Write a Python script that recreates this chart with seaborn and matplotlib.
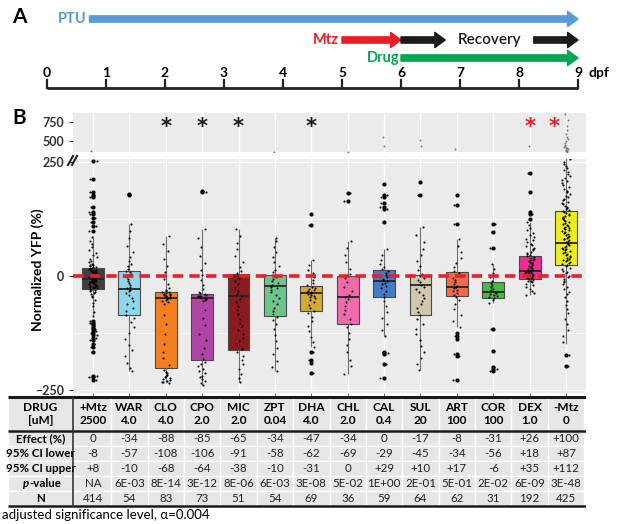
import numpy as np
import pandas as pd
import matplotlib
matplotlib.use("Agg")
import matplotlib.pyplot as plt
from matplotlib.lines import Line2D
from matplotlib.patches import Rectangle
import seaborn as sns

plt.rcParams['font.family'] = ['Lato', 'DejaVu Sans']

# ---------------- data ----------------
DRUGS = ["+Mtz", "WAR", "CLO", "CPO", "MIC", "ZPT", "DHA", "CHL", "CAL", "SUL", "ART", "COR", "DEX", "-Mtz"]
CONC = ["2500", "4.0", "4.0", "2.0", "2.0", "0.04", "4.0", "2.0", "0.4", "20", "100", "100", "1.0", "0"]
BOX_COLORS = ["#3f3f3f", "#8ed6ea", "#f47f20", "#b045a6", "#8c1a1f", "#6cc58b", "#d4ab2c",
              "#f06bab", "#3f7dcb", "#cfc8ae", "#f26a4b", "#4cb848", "#ee2d8e", "#eded1c"]

# five-number summaries (whisker low, Q1, median, Q3, whisker high)
WHIS_LO = [-90, -208, -235, -239, -233, -208, -155, -215, -132, -205, -112, -58, -41, -148]
Q1 = [-29, -86, -202, -183, -161, -88, -76, -105, -45, -85, -44, -48, -7, 25]
MED = [-6, -28, -48, -48, -44, -22, -38, -45, -11, -19, -24, -36, 11, 72]
Q3 = [17, 10, -35, -39, 5, 3, -21, 1, 14, 3, 9, -13, 43, 143]
WHIS_HI = [88, 114, 88, 102, 102, 84, 35, 77, 58, 107, 80, 26, 118, 320]

# individual larvae (approximate, read off the jittered points)
PTS_MTZ_PLUS = [380, 252, 212, 183, 178, 172, 150, 141, 136, 127, 118, 110, 98,
                86, 77, 70, 63, 57, 51, 46, 41, 37, 33, 30, 27, 25, 23, 21, 20, 19, 17, 16, 15,
                14, 13, 12, 11, 10, 9, 8, 7, 6, 5, 4, 3, 3, 2, 1, 1, 0, 0, -1, -2, -2, -3, -3, -4,
                -5, -5, -6, -7, -8, -8, -9, -10, -11, -12, -13, -14, -15, -16, -17, -18, -19, -20,
                -21, -22, -23, -24, -25, -26, -27, -28, -30, -31, -33, -35, -37, -40, -43, -47,
                -52, -58, -66, -78, -88, -98, -102, -106, -110, -113, -117, -121, -125, -130,
                -135, -141, -148, -156, -166, -218, -222, -227]
PTS_WAR = [180, 177, 114, 98, 84, 66, 52, 41, 33, 27, 21, 16, 12, 8, 5, 2, -3, -7, -12, -16, -20,
           -24, -27, -30, -33, -37, -42, -48, -54, -61, -69, -77, -85, -92, -101, -112, -124, -137,
           -150, -163, -176, -190, -201, -208]
PTS_CLO = [88, 71, 55, 38, 22, 8, -6, -18, -27, -31, -33, -35, -36, -38, -39, -40, -41, -42, -43,
           -44, -45, -46, -47, -48, -49, -50, -52, -54, -57, -62, -85, -104, -126, -148, -166, -180,
           -194, -206, -210, -213, -216, -219, -221, -223, -225, -227, -229, -231, -233, -235]
PTS_CPO = [186, 183, 102, 84, 63, 44, 28, 14, 3, -8, -19, -28, -34, -38, -40, -42, -43, -44, -45,
           -46, -47, -48, -49, -50, -52, -55, -74, -92, -108, -126, -141, -157, -170, -181, -188,
           -193, -198, -203, -208, -213, -218, -222, -226, -230, -234, -239]
PTS_MIC = [102, 88, 73, 58, 44, 31, 20, 12, 6, 1, -4, -11, -18, -26, -33, -39, -44, -50, -57, -66,
           -75, -84, -93, -102, -110, -118, -126, -135, -143, -152, -160, -167, -175, -184, -193,
           -203, -214, -224, -233]
PTS_ZPT = [366, 84, 76, 63, 52, 41, 31, 22, 14, 8, 3, -2, -7, -12, -16, -20, -23, -27, -31, -36,
           -42, -48, -55, -62, -69, -76, -83, -89, -96, -104, -116, -129, -143, -157, -171, -186,
           -199, -208]
PTS_DHA = [135, 112, 35, 24, 14, 6, -2, -9, -15, -20, -23, -26, -28, -30, -32, -34, -35, -37, -38,
           -40, -41, -43, -45, -48, -52, -57, -63, -70, -76, -82, -90, -99, -110, -121, -133, -145,
           -155, -166, -183, -191, -212]
PTS_CHL = [370, 181, 164, 77, 62, 45, 30, 16, 5, -4, -14, -24, -33, -41, -46, -50, -57, -65, -74,
           -84, -95, -104, -112, -124, -137, -152, -167, -183, -198, -215]
PTS_CAL = [560, 440, 201, 178, 172, 160, 151, 146, 119, 58, 46, 36, 27, 20, 15, 11, 7, 3, 0, -3,
           -6, -9, -12, -15, -18, -22, -27, -33, -40, -46, -55, -66, -78, -91, -104, -118, -132,
           -166, -168, -170, -192, -223]
PTS_SUL = [515, 440, 205, 178, 107, 90, 74, 59, 45, 33, 22, 13, 5, 0, -4, -9, -14, -19, -24, -29,
           -35, -41, -48, -55, -62, -70, -78, -85, -94, -104, -115, -127, -140, -153, -166, -180,
           -193, -205]
PTS_ART = [400, 177, 156, 114, 80, 66, 52, 40, 29, 20, 12, 6, 1, -4, -9, -14, -18, -21, -24, -27,
           -30, -33, -37, -41, -45, -52, -62, -73, -86, -99, -112, -125, -131, -137, -170, -174, -227]
PTS_COR = [113, 96, 62, 26, 16, 6, -3, -10, -15, -20, -24, -28, -31, -34, -36, -38, -40, -42, -44,
           -46, -48, -53, -58, -117, -164, -200, -203, -207]
PTS_DEX = [440, 226, 183, 140, 136, 124, 118, 112, 106, 100, 95, 90, 86, 82, 78, 74, 71, 68, 65,
           62, 59, 56, 53, 50, 48, 46, 44, 42, 40, 38, 36, 34, 32, 30, 28, 26, 24, 22, 20, 18, 17,
           15, 14, 12, 11, 10, 9, 8, 7, 6, 5, 4, 3, 2, 1, 0, -1, -2, -3, -4, -5, -6, -8, -10, -12,
           -14, -17, -20, -24, -28, -33, -38, -41]
PTS_MTZ_MINUS = [850, 770, 700, 650, 600, 560, 530, 500, 480, 460, 445, 430, 420, 410, 400, 392,
                 385, 378, 372, 368, 255, 250, 246, 241, 236, 232, 228, 224, 219, 215, 211, 207,
                 203, 199, 195, 191, 187, 183, 179, 175, 172, 169, 166, 163, 160, 157, 154, 151,
                 148, 146, 144, 142, 140, 138, 136, 134, 132, 130, 128, 126, 124, 122, 120, 118,
                 116, 114, 112, 110, 108, 106, 104, 102, 100, 98, 96, 94, 92, 90, 88, 86, 84, 82,
                 80, 78, 76, 74, 72, 70, 68, 66, 64, 62, 60, 58, 56, 54, 52, 50, 48, 46, 44, 42,
                 40, 38, 36, 34, 32, 30, 28, 26, 24, 21, 18, 15, 12, 9, 6, 3, 0, -3, -6, -10, -14,
                 -18, -23, -28, -34, -40, -47, -55, -63, -72, -82, -93, -105, -118, -132, -145,
                 -173, -196]
POINTS = [PTS_MTZ_PLUS, PTS_WAR, PTS_CLO, PTS_CPO, PTS_MIC, PTS_ZPT, PTS_DHA, PTS_CHL, PTS_CAL,
          PTS_SUL, PTS_ART, PTS_COR, PTS_DEX, PTS_MTZ_MINUS]

SIGNIF = ["", "", "*", "*", "*", "", "*", "", "", "", "", "", "*", "*"]
SIG_COLOR = ["#1a1a1a"] * 12 + ["#e8202a", "#e8202a"]

EFFECT = ["0", "-34", "-88", "-85", "-65", "-34", "-47", "-34", "0", "-17", "-8", "-31", "+26", "+100"]
CI_LO = ["-8", "-57", "-108", "-106", "-91", "-58", "-62", "-69", "-29", "-45", "-34", "-56", "+18", "+87"]
CI_HI = ["+8", "-10", "-68", "-64", "-38", "-10", "-31", "0", "+29", "+10", "+17", "-6", "+35", "+112"]
PVAL = ["NA", "6E-03", "8E-14", "3E-12", "8E-06", "6E-03", "3E-08", "5E-02", "1E+00", "2E-01",
        "5E-01", "2E-02", "6E-09", "3E-48"]
N = ["414", "54", "83", "73", "51", "54", "69", "36", "59", "64", "62", "31", "192", "425"]

# timeline (dpf)
TL_TICKS = list(range(10))
PTU = (0.72, 9)
MTZ = (5, 6)
RECOVERY = [(6, 6.75), (8.25, 9)]
DRUG_PERIOD = (6, 9)

# ---------------- long-form tables ----------------
box_df = pd.DataFrame({
    "drug": np.repeat(DRUGS, 5),
    "val": np.column_stack([WHIS_LO, Q1, MED, Q3, WHIS_HI]).ravel(),
})
pts_df = pd.DataFrame({
    "drug": np.concatenate([[d] * len(p) for d, p in zip(DRUGS, POINTS)]),
    "val": np.concatenate(POINTS),
})
lo = pts_df["drug"].map(dict(zip(DRUGS, WHIS_LO)))
hi = pts_df["drug"].map(dict(zip(DRUGS, WHIS_HI)))
out_df = pts_df[(pts_df["val"] < lo) | (pts_df["val"] > hi)]

# ---------------- figure ----------------
W, H = 617, 524
fig = plt.figure(figsize=(W / 100, H / 100), dpi=100)


def fx(x):
    return x / W


def fy(y):
    return 1 - y / H


# ---- panel A: timeline ----
px_per_day = 59.0
axA = fig.add_axes([0, fy(96), 1, 96 / H])
axA.set_xlim(-47 / px_per_day, (W - 47) / px_per_day)
axA.set_ylim(96, 0)
axA.axis("off")


def arrow(ax, span, y, color):
    ax.annotate("", xy=(span[1], y), xytext=(span[0], y),
                arrowprops=dict(arrowstyle="simple,tail_width=0.45,head_width=1.1,head_length=0.75",
                                mutation_scale=10, color=color, shrinkA=0, shrinkB=0))


arrow(axA, PTU, 19, "#5b9bd5")
axA.text(PTU[0] - 0.05, 19, "PTU", color="#5b9bd5", ha="right", va="center", fontsize=10.5, fontweight="bold")
arrow(axA, MTZ, 40, "#ec1c24")
axA.text(MTZ[0] - 0.05, 40, "Mtz", color="#ec1c24", ha="right", va="center", fontsize=10.5, fontweight="bold")
for span in RECOVERY:
    arrow(axA, span, 40, "#1a1a1a")
axA.text(7.5, 40, "Recovery", color="#1a1a1a", ha="center", va="center", fontsize=11, fontweight="semibold")
arrow(axA, DRUG_PERIOD, 58, "#00a651")
axA.text(DRUG_PERIOD[0] - 0.02, 58, "Drug", color="#00a651", ha="right", va="center", fontsize=10.5, fontweight="bold")

axA.plot([TL_TICKS[0], TL_TICKS[-1]], [88, 88], color="#222222", lw=2, solid_capstyle="butt")
for t in TL_TICKS:
    axA.plot([t, t], [80, 88], color="#222222", lw=1.6)
    axA.text(t, 73, str(t), ha="center", va="center", fontsize=10, fontweight="bold")
axA.text(TL_TICKS[-1] + 0.17, 73, "dpf", ha="left", va="center", fontsize=10, fontweight="bold")

fig.text(fx(12), fy(17), "A", fontsize=15, fontweight="bold", va="center")
fig.text(fx(12), fy(118), "B", fontsize=15, fontweight="bold", va="center")

# ---- panel B: broken y axis boxplot ----
left, width = fx(73), (586 - 73) / W
ax_top = fig.add_axes([left, fy(152), width, (152 - 113) / H])
ax = fig.add_axes([left, fy(393), width, (393 - 159) / H])


def draw_boxes(a):
    # each group gets its five numbers; whis=(0,100) puts whiskers on min/max
    sns.boxplot(data=box_df, x="drug", y="val", hue="drug", order=DRUGS, hue_order=DRUGS,
                palette=BOX_COLORS, saturation=1, whis=(0, 100), width=0.6,
                linecolor="#4a4a4a", linewidth=0.8, showfliers=False, legend=False,
                medianprops=dict(color="#262626", linewidth=1.3),
                whiskerprops=dict(color="#6e6e6e", linewidth=0.8),
                capprops=dict(linewidth=0), ax=a)


# lower (main) panel
draw_boxes(ax)
sns.stripplot(data=pts_df, x="drug", y="val", order=DRUGS, color="black", size=1.5, jitter=0.12, ax=ax)
sns.stripplot(data=out_df, x="drug", y="val", order=DRUGS, color="black", size=3.0, jitter=False, ax=ax)

# upper panel only shows the few far outliers, drawn faint
draw_boxes(ax_top)
sns.stripplot(data=pts_df, x="drug", y="val", order=DRUGS, color="#777777", size=1.4, jitter=0.06, ax=ax_top)

for a in (ax_top, ax):
    a.set_facecolor("#ebebeb")
    a.set_xlim(-0.55, len(DRUGS) - 0.45)
    a.set_xlabel("")
    a.set_ylabel("")
    for s in a.spines.values():
        s.set_visible(False)
    a.set_axisbelow(True)
    a.grid(axis="x", color="white", lw=1)
    a.tick_params(axis="x", length=2, color="#777777", labelbottom=False)
    a.tick_params(axis="y", length=3, color="#333333", labelsize=9, labelcolor="#333333")

ax_top.set_ylim(365, 865)
ax_top.set_yticks([500, 750])
ax_top.tick_params(axis="x", length=0)
for lab in ax_top.get_yticklabels():
    lab.set_fontweight("bold")
for i, (s, c) in enumerate(zip(SIGNIF, SIG_COLOR)):
    if s:
        xpos = i - 0.32 if DRUGS[i] == "-Mtz" else i
        ax_top.text(xpos, 690, s, ha="center", va="center", color=c, fontsize=15,
                    family="DejaVu Sans", fontweight="bold")

ax.set_ylim(-256, 256)
ax.set_yticks([-250, 0, 250])
ax.set_yticks([-125, 125], minor=True)
ax.tick_params(axis="y", which="minor", length=0)
ax.grid(axis="y", which="major", color="white", lw=1)
ax.grid(axis="y", which="minor", color="white", lw=0.5)
for lab in ax.get_yticklabels():
    lab.set_fontweight("bold")
ax.axhline(0, color="#e8202a", lw=2.6, ls=(0, (2.9, 1.7)), zorder=5)

fig.text(fx(38), fy(270), "Normalized YFP (%)", rotation=90, ha="center", va="center",
         fontsize=10, fontweight="bold")
# axis break marks
for dx in (0, 4):
    fig.add_artist(Line2D([fx(68 + dx), fx(73 + dx)], [fy(165), fy(156)], color="#222222", lw=1.5))

# ---- table ----
col_w = (586 - 73) / (len(DRUGS) + 0.1)
lab_left = -0.55 - (73 - 8) / col_w
axT = fig.add_axes([fx(8), 0, (586 - 8) / W, fy(395)])
axT.set_xlim(lab_left, len(DRUGS) - 0.45)
axT.set_ylim(H, 395)
axT.axis("off")

row_edges = [397, 431, 446, 461, 476, 491, 506]
row_labels = ["Effect (%)", "95% CI lower", "95% CI upper", None, "N"]
row_values = [EFFECT, CI_LO, CI_HI, PVAL, N]
cell_bg = "#e6e6e6"
for r in range(len(row_edges) - 1):
    y0, y1 = row_edges[r], row_edges[r + 1]
    axT.add_patch(Rectangle((lab_left, y0), -0.55 - lab_left, y1 - y0, fc=cell_bg, ec="white", lw=1))
    for i in range(len(DRUGS)):
        axT.add_patch(Rectangle((i - 0.5 if i else -0.55, y0), 1 if i else 1.05, y1 - y0,
                                fc=cell_bg, ec="white", lw=1))

fs_tab = 8.3
lab_cx = (lab_left - 0.55) / 2
hdr_mid = (row_edges[0] + row_edges[1]) / 2
axT.text(lab_cx, hdr_mid - 6.5, "DRUG", ha="center", va="center", fontsize=fs_tab + 0.3, fontweight="bold")
axT.text(lab_cx, hdr_mid + 6.5, "[uM]", ha="center", va="center", fontsize=fs_tab + 0.3, fontweight="bold")
for i, (d, c) in enumerate(zip(DRUGS, CONC)):
    axT.text(i, hdr_mid - 6.5, d, ha="center", va="center", fontsize=fs_tab + 0.3, fontweight="bold")
    axT.text(i, hdr_mid + 6.5, c, ha="center", va="center", fontsize=fs_tab + 0.3, fontweight="bold")

for r, (lab, vals) in enumerate(zip(row_labels, row_values)):
    ym = (row_edges[r + 1] + row_edges[r + 2]) / 2
    if lab is None:
        xs = lab_cx - 0.3
        axT.text(xs, ym, "p", ha="right", va="center", fontsize=fs_tab, fontweight="bold", fontstyle="italic")
        axT.text(xs, ym, "-value", ha="left", va="center", fontsize=fs_tab, fontweight="bold")
    else:
        axT.text(lab_cx, ym, lab, ha="center", va="center", fontsize=fs_tab, fontweight="bold")
    for i, v in enumerate(vals):
        axT.text(i, ym, v, ha="center", va="center", fontsize=fs_tab, color="#222222")

for y, lw in ((row_edges[0], 2.2), (row_edges[1], 1.8), (row_edges[-1], 1.8)):
    axT.plot([lab_left, len(DRUGS) - 0.45], [y, y], color="#1a1a1a", lw=lw, solid_capstyle="butt")
axT.plot([-0.55, -0.55], [row_edges[0], row_edges[-1]], color="#333333", lw=1.2)

fig.text(fx(2), fy(515), "adjusted significance level, \u03b1=0.004", fontsize=9.5, va="center")

fig.savefig("out.png", dpi=100)
